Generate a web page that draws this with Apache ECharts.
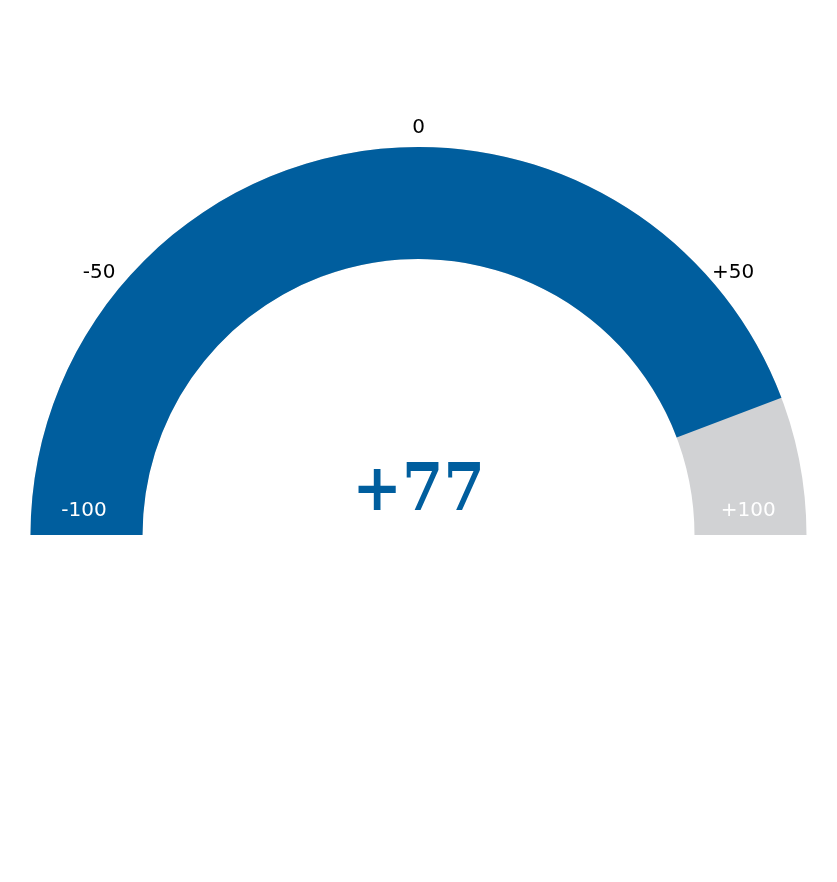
<!DOCTYPE html>
<html>
<head>
<meta charset="utf-8">
<script src="https://cdn.jsdelivr.net/npm/echarts@6/dist/echarts.min.js"></script>
<style>
html,body{margin:0;padding:0;background:#fff;}
#chart{width:837px;height:882px;}
</style>
</head>
<body>
<div id="chart"></div>
<script>
// ---- data ----
const scaleMin = -100;
const scaleMax = 100;
const gaugeValue = 77;
const tickValues = [-100, -50, 0, 50, 100];
const tickLabels = ['-100', '-50', '0', '+50', '+100'];
const outerTickValues = [-50, 0, 50];
const innerTickValues = [-100, 100];

// ---- styling ----
const BLUE = '#005E9E';
const GREY = '#D1D2D4';
const labelFor = v => {
  const i = tickValues.indexOf(Math.round(v));
  return i >= 0 ? tickLabels[i] : '';
};
const fmtValue = v => (v > 0 ? '+' : '') + v;

const chart = echarts.init(document.getElementById('chart'), null, {renderer: 'canvas'});
const center = ['50%', 535];

const labelOnly = {
  type: 'gauge',
  z: 10,
  center: center,
  min: scaleMin,
  max: scaleMax,
  pointer: {show: false},
  progress: {show: false},
  axisLine: {show: false, lineStyle: {width: 0}},
  axisTick: {show: false},
  splitLine: {show: false, length: 0, distance: 0},
  detail: {show: false},
  title: {show: false},
  data: [{value: scaleMin}]
};

chart.setOption({
  animation: false,
  backgroundColor: '#ffffff',
  series: [
    {
      type: 'gauge',
      z: 2,
      center: center,
      radius: 388,
      startAngle: 180,
      endAngle: 0,
      min: scaleMin,
      max: scaleMax,
      pointer: {show: false},
      progress: {show: true, width: 112, roundCap: false, itemStyle: {color: BLUE}},
      axisLine: {lineStyle: {width: 112, color: [[1, GREY]]}},
      axisTick: {show: false},
      splitLine: {show: false},
      axisLabel: {show: false},
      title: {show: false},
      detail: {
        show: true,
        offsetCenter: [0, -42],
        formatter: fmtValue,
        color: BLUE,
        fontSize: 66,
        fontWeight: 'bold',
        fontFamily: 'DejaVu Serif Condensed, DejaVu Serif'
      },
      data: [{value: gaugeValue}]
    },
    Object.assign({}, labelOnly, {
      radius: 426,
      startAngle: 194,
      endAngle: -14,
      splitNumber: 4,
      axisLabel: {
        show: true,
        distance: 0,
        padding: [9, 0, 0, 0],
        color: '#000',
        fontSize: 20,
        fontFamily: 'DejaVu Sans',
        formatter: v => outerTickValues.indexOf(Math.round(v)) >= 0 ? labelFor(v) : ''
      }
    }),
    Object.assign({}, labelOnly, {
      radius: 358,
      startAngle: 176.1,
      endAngle: 3.9,
      splitNumber: 1,
      axisLabel: {
        show: true,
        distance: 0,
        color: '#ffffff',
        fontSize: 20,
        fontFamily: 'DejaVu Sans',
        formatter: v => innerTickValues.indexOf(Math.round(v)) >= 0 ? labelFor(v) : ''
      }
    })
  ]
});
</script>
</body>
</html>
